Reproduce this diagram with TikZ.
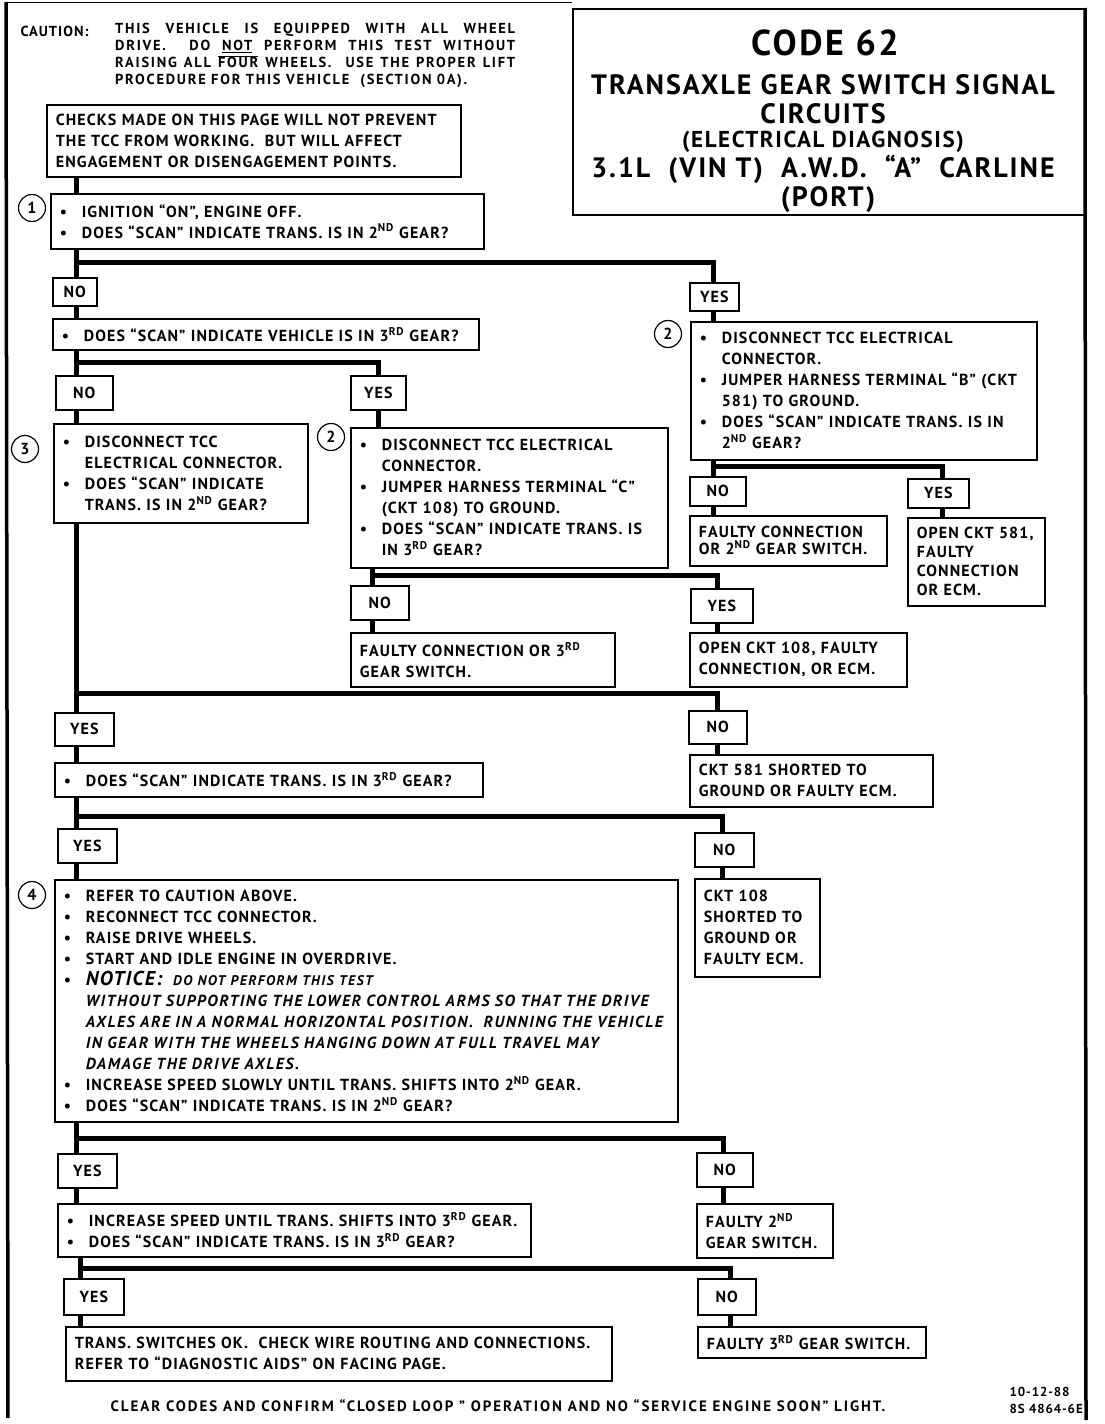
\documentclass[tikz,border=0pt]{standalone}
\usepackage{fontspec}
\setmainfont{PT Sans}[LetterSpace=7]
\newcommand\fs{\bfseries\fontsize{16}{21}\selectfont}
\newcommand\bl{\makebox[22pt][l]{\textbullet}}
\newcommand\ii{\hspace*{22pt}}
\newcommand\sps[1]{\textsuperscript{#1}}
\newcommand\itl{\itshape\fontsize{16}{21}\selectfont\addfontfeature{LetterSpace=10}}
\newcommand\cautfont{\bfseries\fontsize{14.5}{17}\selectfont\addfontfeature{LetterSpace=12}}
\tikzset{
  x=1pt, y=-1pt,
  box/.style={draw, line width=1.6pt, anchor=north west, inner xsep=9pt, inner ysep=0pt, align=left, font=\fs},
  lab/.style={draw, line width=1.6pt, anchor=north west, inner sep=0pt, font=\fs},
  num/.style={draw, circle, line width=1.2pt, minimum size=27pt, inner sep=0pt, font=\fs},
  conn/.style={line width=5pt, line join=miter},
  border/.style={line width=3.5pt}
}
\begin{document}
\begin{tikzpicture}
\useasboundingbox (0,0) rectangle (1104,1424);
% page borders
\draw[border] (6,2) -- (8,1418);
\draw[border] (1085,8) -- (1086,1420);
\draw[line width=0.8pt] (6,2) -- (572,2);
% caution
\node[anchor=base west, font=\bfseries\fontsize{14.5}{17}\selectfont] (cautlbl) at (17,36) {CAUTION:};
\node[anchor=north west, inner sep=0pt, text width=400pt, align=justify, font=\cautfont] (caut) at (115,23)
 {THIS VEHICLE IS EQUIPPED WITH ALL WHEEL\linebreak
  DRIVE.\ \ DO \underline{NOT} PERFORM THIS TEST WITHOUT\linebreak
  RAISING ALL $\overline{\mbox{FOUR}}$ WHEELS.\ \ USE THE PROPER LIFT\linebreak
  PROCEDURE FOR THIS VEHICLE\ \ (SECTION 0A).};
% title
\node[draw, line width=1.6pt, anchor=north west, minimum width=513pt, minimum height=206pt, inner sep=0pt] (title) at (572,8) {};
\node[anchor=base, font=\bfseries\fontsize{36}{40}\selectfont] (t1) at (825,55) {CODE 62};
\node[anchor=base, font=\bfseries\fontsize{28}{30}\selectfont] (t2) at (823,94) {TRANSAXLE GEAR SWITCH SIGNAL};
\node[anchor=base, font=\bfseries\fontsize{28}{30}\selectfont] (t3) at (823,123) {CIRCUITS};
\node[anchor=base, font=\bfseries\fontsize{23}{28}\selectfont] (t4) at (823,147) {(ELECTRICAL DIAGNOSIS)};
\node[anchor=base, font=\bfseries\fontsize{28}{30}\selectfont] (t5) at (823,177) {3.1L\ \ (VIN T)\ \ A.W.D.\ \ “A”\ \ CARLINE};
\node[anchor=base, font=\bfseries\fontsize{28}{30}\selectfont] (t6) at (828,206) {(PORT)};
% x-lines
\coordinate (T) at (76,0);
% boxes
\node[box, minimum width=414pt, minimum height=72pt, text width=396pt] (b0) at (46,104)
 {CHECKS MADE ON THIS PAGE WILL NOT PREVENT\\THE TCC FROM WORKING.\ \ BUT WILL AFFECT\\ENGAGEMENT OR DISENGAGEMENT POINTS.};
\node[box, minimum width=433pt, minimum height=55pt, text width=415pt] (b1) at (50,193)
 {\bl IGNITION “ON”, ENGINE OFF.\\\bl DOES “SCAN” INDICATE TRANS. IS IN 2\sps{ND} GEAR?};
\node[num] (c1) at (32,208) {1};
\node[lab, minimum width=44pt, minimum height=28pt] (n1) at (52,277) {NO};
\node[lab, minimum width=49pt, minimum height=28pt] (y1) at (689,282) {YES};
\node[box, minimum width=426pt, minimum height=31pt, text width=408pt] (b2) at (52,318)
 {\bl DOES “SCAN” INDICATE VEHICLE IS IN 3\sps{RD} GEAR?};
\node[lab, minimum width=57pt, minimum height=34pt] (n2) at (55,375) {NO};
\node[lab, minimum width=55pt, minimum height=34pt] (y2) at (350,375) {YES};
\node[box, minimum width=254pt, minimum height=99pt, text width=236pt] (b3) at (53,423)
 {\bl DISCONNECT TCC\\\ii ELECTRICAL CONNECTOR.\\\bl DOES “SCAN” INDICATE\\\ii TRANS. IS IN 2\sps{ND} GEAR?};
\node[num] (c3) at (25,449) {3};
\node[box, minimum width=317pt, minimum height=140pt, text width=299pt] (b4) at (350,427)
 {\bl DISCONNECT TCC ELECTRICAL\\\ii CONNECTOR.\\\bl JUMPER HARNESS TERMINAL “C”\\\ii (CKT 108) TO GROUND.\\\bl DOES “SCAN” INDICATE TRANS. IS\\\ii IN 3\sps{RD} GEAR?};
\node[num] (c4) at (331,437) {2};
\node[lab, minimum width=58pt, minimum height=34pt] (n4) at (350,585) {NO};
\node[lab, minimum width=62pt, minimum height=34pt] (y4) at (690,588) {YES};
\node[box, minimum width=264pt, minimum height=54pt, text width=246pt] (r4n) at (350,632)
 {FAULTY CONNECTION OR 3\sps{RD}\\GEAR SWITCH.};
\node[box, minimum width=217pt, minimum height=54pt, text width=199pt] (r4y) at (689,632)
 {OPEN CKT 108, FAULTY\\CONNECTION, OR ECM.};
\node[box, minimum width=346pt, minimum height=138pt, text width=328pt] (b5) at (690,321)
 {\bl DISCONNECT TCC ELECTRICAL\\\ii CONNECTOR.\\\bl JUMPER HARNESS TERMINAL “B” (CKT\\\ii 581) TO GROUND.\\\bl DOES “SCAN” INDICATE TRANS. IS IN\\\ii 2\sps{ND} GEAR?};
\node[num] (c5) at (668,334) {2};
\node[lab, minimum width=56pt, minimum height=29pt] (n5) at (689,476) {NO};
\node[lab, minimum width=61pt, minimum height=29pt] (y5) at (907,478) {YES};
\node[box, minimum width=197pt, minimum height=50pt, text width=179pt, font=\bfseries\fontsize{16}{17}\selectfont] (r5n) at (689,515)
 {FAULTY CONNECTION\\OR 2\sps{ND} GEAR SWITCH.};
\node[box, minimum width=137pt, minimum height=88pt, text width=119pt, font=\bfseries\fontsize{16}{19}\selectfont] (r5y) at (907,517)
 {OPEN CKT 581,\\FAULTY\\CONNECTION\\OR ECM.};
\node[lab, minimum width=59pt, minimum height=33pt] (y6) at (54,712) {YES};
\node[lab, minimum width=58pt, minimum height=33pt] (n6) at (688,710) {NO};
\node[box, minimum width=428pt, minimum height=34pt, text width=410pt] (b6) at (54,762)
 {\bl DOES “SCAN” INDICATE TRANS. IS IN 3\sps{RD} GEAR?};
\node[box, minimum width=243pt, minimum height=52pt, text width=225pt] (r6n) at (689,754)
 {CKT 581 SHORTED TO\\GROUND OR FAULTY ECM.};
\node[lab, minimum width=59pt, minimum height=34pt] (y7) at (57,828) {YES};
\node[lab, minimum width=59pt, minimum height=34pt] (n7) at (694,832) {NO};
\node[box, minimum width=623pt, minimum height=242pt, text width=605pt] (b7) at (54,879)
 {\bl REFER TO CAUTION ABOVE.\\
  \bl RECONNECT TCC CONNECTOR.\\
  \bl RAISE DRIVE WHEELS.\\
  \bl START AND IDLE ENGINE IN OVERDRIVE.\\
  \bl {\itshape\fontsize{20}{21}\selectfont NOTICE:}\ \ {\itshape\fontsize{14}{21}\selectfont\addfontfeature{LetterSpace=10} DO NOT PERFORM THIS TEST}\\
  \ii {\itl WITHOUT SUPPORTING THE LOWER CONTROL ARMS SO THAT THE DRIVE}\\
  \ii {\itl AXLES ARE IN A NORMAL HORIZONTAL POSITION.\ \ RUNNING THE VEHICLE}\\
  \ii {\itl IN GEAR WITH THE WHEELS HANGING DOWN AT FULL TRAVEL MAY}\\
  \ii {\itl DAMAGE THE DRIVE AXLES.}\\
  \bl INCREASE SPEED SLOWLY UNTIL TRANS. SHIFTS INTO 2\sps{ND} GEAR.\\
  \bl DOES “SCAN” INDICATE TRANS. IS IN 2\sps{ND} GEAR?};
\node[num] (c7) at (32,895) {4};
\node[box, minimum width=125pt, minimum height=98pt, text width=107pt] (r7n) at (694,878)
 {CKT 108\\SHORTED TO\\GROUND OR\\FAULTY ECM.};
\node[lab, minimum width=59pt, minimum height=34pt] (y8) at (57,1153) {YES};
\node[lab, minimum width=56pt, minimum height=34pt] (n8) at (696,1152) {NO};
\node[box, minimum width=473pt, minimum height=53pt, text width=455pt] (b8) at (57,1203)
 {\bl INCREASE SPEED UNTIL TRANS. SHIFTS INTO 3\sps{RD} GEAR.\\\bl DOES “SCAN” INDICATE TRANS. IS IN 3\sps{RD} GEAR?};
\node[box, minimum width=136pt, minimum height=54pt, text width=118pt] (r8n) at (696,1203)
 {FAULTY 2\sps{ND}\\GEAR SWITCH.};
\node[lab, minimum width=60pt, minimum height=36pt] (y9) at (63,1278) {YES};
\node[lab, minimum width=58pt, minimum height=36pt] (n9) at (697,1278) {NO};
\node[box, minimum width=546pt, minimum height=54pt, text width=528pt] (r9y) at (65,1326)
 {TRANS. SWITCHES OK.\ \ CHECK WIRE ROUTING AND CONNECTIONS.\\REFER TO “DIAGNOSTIC AIDS” ON FACING PAGE.};
\node[box, minimum width=228pt, minimum height=31pt, text width=210pt] (r9n) at (697,1326)
 {FAULTY 3\sps{RD} GEAR SWITCH.};
% footer
\node[anchor=base, font=\bfseries\fontsize{15}{17}\selectfont\addfontfeature{LetterSpace=13}] (foot) at (498,1411) {CLEAR CODES AND CONFIRM “CLOSED LOOP ” OPERATION AND NO “SERVICE ENGINE SOON” LIGHT.};
\node[anchor=south east, inner sep=0pt, align=left, font=\bfseries\fontsize{13}{17}\selectfont] (date) at (1083,1414) {10-12-88\\8S 4864-6E};
% junction coordinates
\coordinate (j1) at (713,262);
\coordinate (j2) at (378,362);
\coordinate (j3) at (942,466);
\coordinate (j4) at (717,575);
\coordinate (j6) at (717,693);
\coordinate (j7) at (722,816);
\coordinate (j8) at (723,1138);
\coordinate (j9) at (730,1268);
\coordinate (T2) at (80,0);
\coordinate (X4) at (372,0);
% connectors
\draw[conn] (b0.south -| T) -- (b1.north -| T);
\draw[conn] (b1.south -| T) -- (n1.north -| T);
\draw[conn] (b1.south -| T) |- (j1) -- (y1.north -| j1);
\draw[conn] (n1.south -| T) -- (b2.north -| T);
\draw[conn] (b2.south -| T) -- (n2.north -| T);
\draw[conn] (b2.south -| T) |- (j2) -- (y2.north -| j2);
\draw[conn] (n2.south -| T) -- (b3.north -| T);
\draw[conn] (y2.south -| j2) -- (b4.north -| j2);
\draw[conn] (b4.south -| X4) -- (n4.north -| X4);
\draw[conn] (b4.south -| X4) |- (j4) -- (y4.north -| j4);
\draw[conn] (n4.south -| X4) -- (r4n.north -| X4);
\draw[conn] (y4.south -| j4) -- (r4y.north -| j4);
\draw[conn] (y1.south -| j1) -- (b5.north -| j1);
\draw[conn] (b5.south -| j1) -- (n5.north -| j1);
\draw[conn] (b5.south -| j1) |- (j3) -- (y5.north -| j3);
\draw[conn] (n5.south -| j1) -- (r5n.north -| j1);
\draw[conn] (y5.south -| j3) -- (r5y.north -| j3);
\draw[conn] (b3.south -| T) -- (y6.north -| T);
\draw[conn] (b3.south -| T) |- (j6) -- (n6.north -| j6);
\draw[conn] (y6.south -| T) -- (b6.north -| T);
\draw[conn] (n6.south -| j6) -- (r6n.north -| j6);
\draw[conn] (b6.south -| T) -- (y7.north -| T);
\draw[conn] (b6.south -| T) |- (j7) -- (n7.north -| j7);
\draw[conn] (y7.south -| T) -- (b7.north -| T);
\draw[conn] (n7.south -| j7) -- (r7n.north -| j7);
\draw[conn] (b7.south -| T) -- (y8.north -| T);
\draw[conn] (b7.south -| T) |- (j8) -- (n8.north -| j8);
\draw[conn] (y8.south -| T) -- (b8.north -| T);
\draw[conn] (n8.south -| j8) -- (r8n.north -| j8);
\draw[conn] (b8.south -| T2) -- (y9.north -| T2);
\draw[conn] (b8.south -| T2) |- (j9) -- (n9.north -| j9);
\draw[conn] (y9.south -| T2) -- (r9y.north -| T2);
\draw[conn] (n9.south -| j9) -- (r9n.north -| j9);
\end{tikzpicture}
\end{document}
